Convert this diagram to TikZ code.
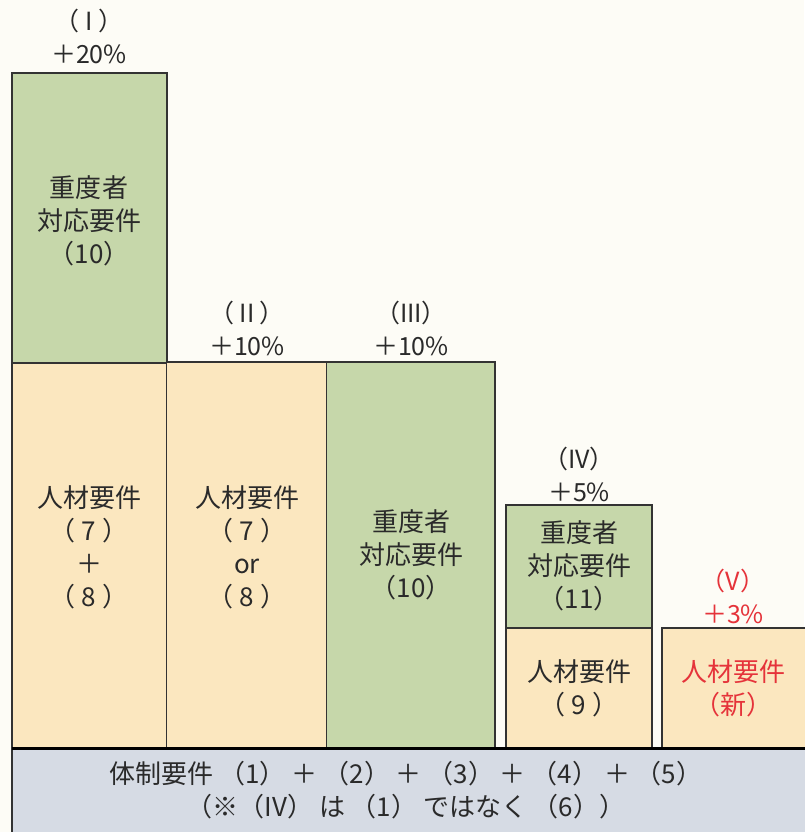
\documentclass[tikz,border=0pt]{standalone}
\usepackage{fontspec}
\setmainfont{Noto Sans CJK JP}
\definecolor{bg}{HTML}{FDFCF6}
\definecolor{grn}{HTML}{C6D7AA}
\definecolor{ylw}{HTML}{FBE7BF}
\definecolor{bar}{HTML}{D6DBE4}
\definecolor{edge}{HTML}{333333}
\definecolor{txt}{HTML}{2A2A2A}
\definecolor{rd}{HTML}{E5333A}
\tikzset{
  box/.style={draw=edge, line width=1.2pt},
  lbl/.style={align=center, text=txt, inner sep=0pt, font=\fontsize{26}{33}\selectfont},
  hdr/.style={align=center, text=txt, inner sep=0pt, font=\fontsize{25}{33}\selectfont},
}
\begin{document}
\begin{tikzpicture}[x=1pt,y=-1pt]
\useasboundingbox (0,0) rectangle (804,832);
\fill[bg] (0,0) rectangle (804,832);
% column 1
\fill[grn] (12,73) rectangle (167,363);
\fill[ylw] (12,363) rectangle (167,748);
\draw[box] (12,748) -- (12,73) -- (167,73) -- (167,748);
\draw[box] (12,363) -- (167,363);
% column 2
\fill[ylw] (167,362) rectangle (327,748);
\draw[box] (167,362) -- (327,362) -- (327,748);
% column 3
\fill[grn] (327,362) rectangle (495,748);
\draw[box] (327,362) -- (495,362) -- (495,748);
% column 4
\fill[grn] (506,505) rectangle (652,628);
\fill[ylw] (506,628) rectangle (652,748);
\draw[box] (506,748) -- (506,505) -- (652,505) -- (652,748);
\draw[box] (506,628) -- (652,628);
% column 5
\fill[ylw] (662,628) rectangle (806,748);
\draw[box] (662,748) -- (662,628) -- (806,628);
% bottom bar
\fill[bar] (12,748) rectangle (806,834);
\draw[box] (12,834) -- (12,748);
\draw[black, line width=3pt] (12,748) -- (806,748);

% headers
\node[hdr] (h1) at (89,36) {（ I ）\\＋20\%};
\node[hdr] (h2) at (247,328) {（ II ）\\＋10\%};
\node[hdr] (h3) at (411,328) {（III）\\＋10\%};
\node[hdr] (h4) at (579,474) {（IV）\\＋5\%};
\node[hdr, text=rd] (h5) at (733,596) {（V）\\＋3\%};

% contents
\node[lbl] (c1g) at (89,221) {重度者\\対応要件\\（10）};
\node[lbl] (c1y) at (89,547) {人材要件\\（ 7 ）\\＋\\（ 8 ）};
\node[lbl] (c2y) at (247,547) {人材要件\\（ 7 ）\\or\\（ 8 ）};
\node[lbl] (c3g) at (411,555) {重度者\\対応要件\\（10）};
\node[lbl] (c4g) at (579,566) {重度者\\対応要件\\（11）};
\node[lbl] (c4y) at (579,688) {人材要件\\（ 9 ）};
\node[lbl, text=rd] (c5y) at (733,688) {人材要件\\（新）};

\node[lbl] (b1) at (406,790) {体制要件 （1） ＋ （2） ＋ （3） ＋ （4） ＋ （5）\\（※（IV） は （1） ではなく （6））};
\end{tikzpicture}
\end{document}
